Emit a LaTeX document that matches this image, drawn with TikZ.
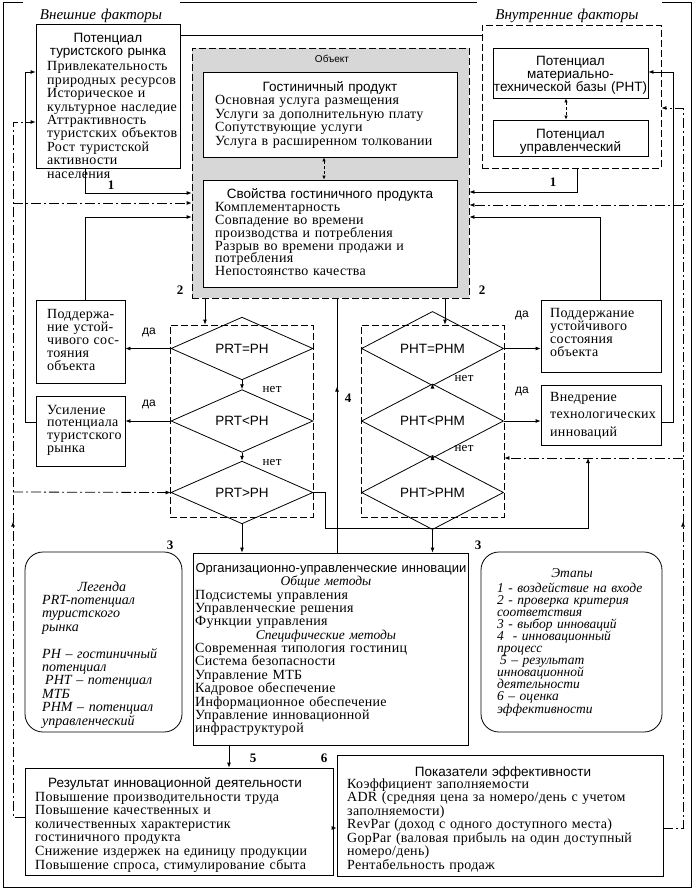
\documentclass[tikz,border=0pt]{standalone}
\usepackage{fontspec}
\setmainfont{Liberation Serif}
\newfontfamily\sansf{Liberation Sans}
\newfontfamily\serlf{Liberation Serif}[LetterSpace=2]
\usetikzlibrary{arrows.meta,shapes.geometric,fit,decorations.markings}
\definecolor{objgray}{RGB}{215,215,215}
\newcommand\bodyf{\serlf\fontsize{14}{13.4}\selectfont\lineskiplimit=-20pt}
\newcommand\titf{\sansf\fontsize{13.5}{13}\selectfont\lineskiplimit=-20pt}
\newcommand\itf{\rmfamily\itshape\fontsize{13.5}{13.4}\selectfont\lineskiplimit=-20pt}
\tikzset{
 ln/.style={line width=0.8pt},
 box/.style={draw, line width=0.8pt, fill=white, inner sep=0pt},
 dbox/.style={draw, line width=0.8pt, dash pattern=on 7pt off 3pt, inner sep=0pt},
 rbox/.style={draw, line width=0.8pt, rounded corners=18pt, inner sep=0pt},
 dd/.style={line width=0.8pt, dash pattern=on 10pt off 3pt on 2pt off 3pt},
 arr/.style={-{Latex[length=5pt,width=4pt]}},
 barr/.style={{Latex[length=4pt,width=3.5pt]}-{Latex[length=4pt,width=3.5pt]}},
 dlink/.style={line width=0.8pt, dash pattern=on 3pt off 2pt},
 txt/.style={inner sep=0pt, anchor=base west, text width=#1, align=left},
 ctxt/.style={inner sep=0pt, anchor=base, text width=#1, align=center},
 dia/.style={draw, diamond, line width=0.8pt, minimum width=142pt, minimum height=48pt, inner sep=0pt, font=\titf},
 num/.style={inner sep=0pt, anchor=base, font=\rmfamily\bfseries\fontsize{13}{13}\selectfont},
 yes/.style={inner sep=0pt, anchor=base, font=\sansf\fontsize{12}{12}\selectfont},
 no/.style={inner sep=0pt, anchor=base, font=\serlf\fontsize{13}{13}\selectfont},
 midarr/.style={postaction={decorate}, decoration={markings, mark=at position #1 with {\arrow{Latex[length=5pt,width=4pt]}}}},
}
\begin{document}
\begin{tikzpicture}[x=1pt,y=-1pt]
\useasboundingbox (0,0) rectangle (698,890);
% outer frame
\draw[ln] (23,2) -- (3,2) -- (3,887) -- (691,887) -- (691,2) -- (662,2);
\draw[ln] (180,2) -- (477,2);
\node[ctxt=160pt, font=\rmfamily\itshape\fontsize{15}{15}\selectfont] (hext) at (101,20) {Внешние факторы};
\node[ctxt=170pt, font=\rmfamily\itshape\fontsize{15}{15}\selectfont] (hint) at (567,20) {Внутренние факторы};

% object
\node[fit={(192,48) (469,298)}, inner sep=0pt, fill=objgray, draw, line width=0.8pt, dash pattern=on 7pt off 3pt] (obj) {};
\node[ctxt=60pt, font=\sansf\fontsize{10}{10}\selectfont] (objT) at (332,63) {Объект};
\node[box, fit={(203,72) (457,157)}] (gp) {};
\node[box, fit={(203,180) (457,287)}] (sv) {};

% boxes
\node[box, fit={(36,24) (180,168)}] (ptr) {};
\node[dbox, fit={(482,25) (661,168)}] (vnd) {};
\node[box, fit={(493,48) (648,98)}] (mtb) {};
\node[box, fit={(493,120) (648,156)}] (upr) {};
\node[box, fit={(36,300) (125,383)}] (lsup) {};
\node[box, fit={(36,396) (125,466)}] (usil) {};
\node[box, fit={(541,300) (661,372)}] (rsup) {};
\node[box, fit={(541,385) (661,445)}] (vne) {};
\node[dbox, fit={(170,325) (313,517)}] (ldb) {};
\node[dbox, fit={(361,325) (504,517)}] (rdb) {};
\node[dia] (d1) at (242,348.5) {PRT=PH};
\node[dia] (d2) at (242,421) {PRT<PH};
\node[dia] (d3) at (242,492.5) {PRT>PH};
\node[dia] (r1) at (432.5,348.5) {PHT=PHM};
\node[dia] (r2) at (432.5,421) {PHT<PHM};
\node[dia] (r3) at (432.5,492.5) {PHT>PHM};
\node[box, fit={(193,553) (468,745)}] (org) {};
\node[rbox, fit={(25,552) (182,732)}] (leg) {};
\node[rbox, fit={(481,552) (662,732)}] (eta) {};
\node[box, fit={(25,768) (333,875)}] (res) {};
\node[box, fit={(337,755) (663,876)}] (pok) {};

% coordinates
\coordinate (T) at (0,35);
\coordinate (O1) at (85,193);
\coordinate (O2) at (577,192);
\coordinate (S1) at (85,217);
\coordinate (S2) at (600,217);
\coordinate (K1) at (324,0);
\coordinate (K2) at (566,0);
\coordinate (A1) at (205,0);
\coordinate (A2) at (445,0);
\coordinate (U1) at (25,422);
\coordinate (U2) at (25,72);
\coordinate (V1) at (673,422);
\coordinate (V2) at (673,72);
\coordinate (P1) at (325,528);
\coordinate (P2) at (588,528);
\coordinate (P3) at (588,458);
\coordinate (F) at (337,0);
\coordinate (G) at (229,0);
\coordinate (L1) at (13,817);
\coordinate (L2) at (13,122);
\coordinate (Lb1) at (13,203);
\coordinate (Lb2) at (13,492);
\coordinate (R1) at (683,828);
\coordinate (R2) at (683,108);
\coordinate (Rb1) at (683,205);
\coordinate (Rb2) at (683,458);
\coordinate (Q) at (0,828);

% connectors
\draw[ln] (T -| ptr.east) -- (T -| vnd.west);
\draw[ln,arr] (ptr.south -| O1) -- (O1) -- (O1 -| obj.west);
\draw[ln,arr] (vnd.south -| O2) -- (O2) -- (O2 -| obj.east);
\draw[ln,arr] (lsup.north -| S1) -- (S1) -- (S1 -| obj.west);
\draw[ln,arr] (rsup.north -| S2) -- (S2) -- (S2 -| obj.east);
\draw[dlink,barr] (gp.south -| K1) -- (sv.north -| K1);
\draw[dlink,barr] (mtb.south -| K2) -- (upr.north -| K2);
\draw[ln,arr] (obj.south -| A1) -- (ldb.north -| A1);
\draw[ln,arr] (obj.south -| A2) -- (rdb.north -| A2);
\draw[ln,arr] (d1.south) -- (d2.north);
\draw[ln,arr] (d2.south) -- (d3.north);
\draw[ln,arr] (r1.south) -- (r2.north);
\draw[ln,arr] (r2.south) -- (r3.north);
\draw[ln,arr] (d1.west) -- (d1.west -| lsup.east);
\draw[ln,arr] (d2.west) -- (d2.west -| usil.east);
\draw[ln,arr] (r1.east) -- (r1.east -| rsup.west);
\draw[ln,arr] (r2.east) -- (r2.east -| vne.west);
\draw[ln,arr] (U1 -| usil.west) -- (U1) -- (U2) -- (U2 -| ptr.west);
\draw[ln,arr] (V1 -| vne.east) -- (V1) -- (V2) -- (V2 -| mtb.east);
\draw[ln,arr] (d3.east) -- (d3.east -| P1) -- (P1) -- (P2) -- (P3);
\draw[ln,midarr=166pt] (org.north -| F) -- (obj.south -| F);
\draw[ln,arr] (d3.south) -- (d3.south |- org.north);
\draw[ln,arr] (r3.south) -- (r3.south |- org.north);
\draw[ln,arr] (org.south -| G) -- (res.north -| G);
\draw[ln,arr] (Q -| res.east) -- (Q -| pok.west);
% dash-dot feedback
\draw[dd,arr,midarr=307pt] (L1 -| res.west) -- (L1) -- (L2) -- (L2 -| ptr.west);
\draw[dd,arr] (Lb1) -- (Lb1 -| obj.west);
\draw[dd,arr] (Lb2) -- (d3.west);
\draw[dd,arr,midarr=326pt] (R1 -| pok.east) -- (R1) -- (R2) -- (R2 -| vnd.east);
\draw[dd,arr] (Rb1) -- (Rb1 -| obj.east);
\draw[dd,arr] (Rb2) -- (Rb2 -| rdb.east);

% texts
\node[ctxt=140pt, font=\titf] (ptrT) at (108,43) {Потенциал\\туристского рынка};
\node[txt=140pt, font=\bodyf] (ptrB) at (47,71) {Привлекательность\\природных ресурсов\\Историческое и\\культурное наследие\\Аттрактивность\\туристских объектов\\Рост туристской\\активности\\населения};
\node[ctxt=160pt, font=\titf] (mtbT) at (570.5,66) {Потенциал\\материально-\\технической базы (PHT)};
\node[ctxt=150pt, font=\titf] (uprT) at (570.5,139) {Потенциал\\управленческий};
\node[ctxt=250pt, font=\titf] (gpT) at (330,92) {Гостиничный продукт};
\node[txt=245pt, font=\bodyf] (gpB) at (215,105) {Основная услуга размещения\\Услуги за дополнительную плату\\Сопутствующие услуги\\Услуга в расширенном толковании};
\node[ctxt=250pt, font=\titf] (svT) at (330,199) {Свойства гостиничного продукта};
\node[txt=245pt, font={\bodyf\baselineskip=12.7pt}] (svB) at (215,212) {Комплементарность\\Совпадение во времени\\производства и потребления\\Разрыв во времени продажи и\\потребления\\Непостоянство качества};
\node[txt=85pt, font={\bodyf\baselineskip=13.1pt}] (lsupT) at (47,318) {Поддержа-\\ние устой-\\чивого сос-\\тояния\\объекта};
\node[txt=85pt, font={\bodyf\baselineskip=12.8pt}] (usilT) at (47,414) {Усиление\\потенциала\\туристского\\рынка};
\node[txt=115pt, font={\bodyf\baselineskip=13.3pt}] (rsupT) at (550,317) {Поддержание\\устойчивого\\состояния\\объекта};
\node[txt=115pt, font={\bodyf\baselineskip=17.5pt}] (vneT) at (550,401) {Внедрение\\технологических\\инноваций};
\node[ctxt=300pt, font={\sansf\fontsize{13}{13}\selectfont}] (orgT) at (331,572) {Организационно-управленческие инновации};
\node[ctxt=200pt, font={\rmfamily\itshape\fontsize{13.5}{13.4}\selectfont}] (orgS1) at (326,585.5) {Общие методы};
\node[txt=270pt, font=\bodyf] (orgB1) at (195,599) {Подсистемы управления\\Управленческие решения\\Функции управления};
\node[ctxt=200pt, font={\rmfamily\itshape\fontsize{13.5}{13.4}\selectfont}] (orgS2) at (326,639) {Специфические методы};
\node[txt=270pt, font=\bodyf] (orgB2) at (195,652.5) {Современная типология гостиниц\\Система безопасности\\Управление МТБ\\Кадровое обеспечение\\Информационное обеспечение\\Управление инновационной\\инфраструктурой};
\node[ctxt=150pt, font={\itf\fontsize{14}{13.4}\selectfont}] (legT) at (102,591) {Легенда};
\node[txt=140pt, font={\itf\fontsize{14}{13.4}\selectfont\lineskiplimit=-20pt}] (legB) at (42,604.4) {PRT-потенциал\\туристского\\рынка\\\mbox{}\\PH – гостиничный\\потенциал\\\hspace*{3pt}PHT – потенциал\\МТБ\\PHM – потенциал\\управленческий};
\node[ctxt=170pt, font=\itf] (etaT) at (572,577) {Этапы};
\node[txt=165pt, font={\itf\baselineskip=12.1pt}] (etaB) at (497,592) {1 - воздействие на входе\\2 - проверка критерия\\соответствия\\3 - выбор инноваций\\4 \ - инновационный\\процесс\\\hspace*{3pt}5 – результат\\инновационной\\деятельности\\6 – оценка\\эффективности};
\node[ctxt=300pt, font=\titf] (resT) at (175,787) {Результат инновационной деятельности};
\node[txt=300pt, font={\bodyf\baselineskip=13.6pt}] (resB) at (35,801) {Повышение производительности труда\\Повышение качественных и\\количественных характеристик\\гостиничного продукта\\Снижение издержек на единицу продукции\\Повышение спроса, стимулирование сбыта};
\node[ctxt=300pt, font=\titf] (pokT) at (503,776) {Показатели эффективности};
\node[txt=315pt, font={\bodyf\baselineskip=13.5pt}] (pokB) at (347,788) {Коэффициент заполняемости\\ADR (средняя цена за номеро/день с учетом\\заполняемости)\\RevPar (доход с одного доступного места)\\GopPar (валовая прибыль на один доступный\\номеро/день)\\Рентабельность продаж};

% labels
\node[num] (n1a) at (111,190) {1};
\node[num] (n1b) at (553,187) {1};
\node[num] (n2a) at (180,294) {2};
\node[num] (n2b) at (482,294) {2};
\node[num] (n3a) at (170,549) {3};
\node[num] (n3b) at (478,549) {3};
\node[num] (n4) at (348,402) {4};
\node[num] (n5) at (253,762) {5};
\node[num] (n6) at (324,762) {6};
\node[yes] (y1) at (149,334) {да};
\node[yes] (y2) at (149,406) {да};
\node[yes] (y3) at (522,317) {да};
\node[yes] (y4) at (522,393) {да};
\node[no] (no1) at (272,392) {нет};
\node[no] (no2) at (272,465) {нет};
\node[no] (no3) at (464,381) {нет};
\node[no] (no4) at (464,451) {нет};
\end{tikzpicture}
\end{document}
